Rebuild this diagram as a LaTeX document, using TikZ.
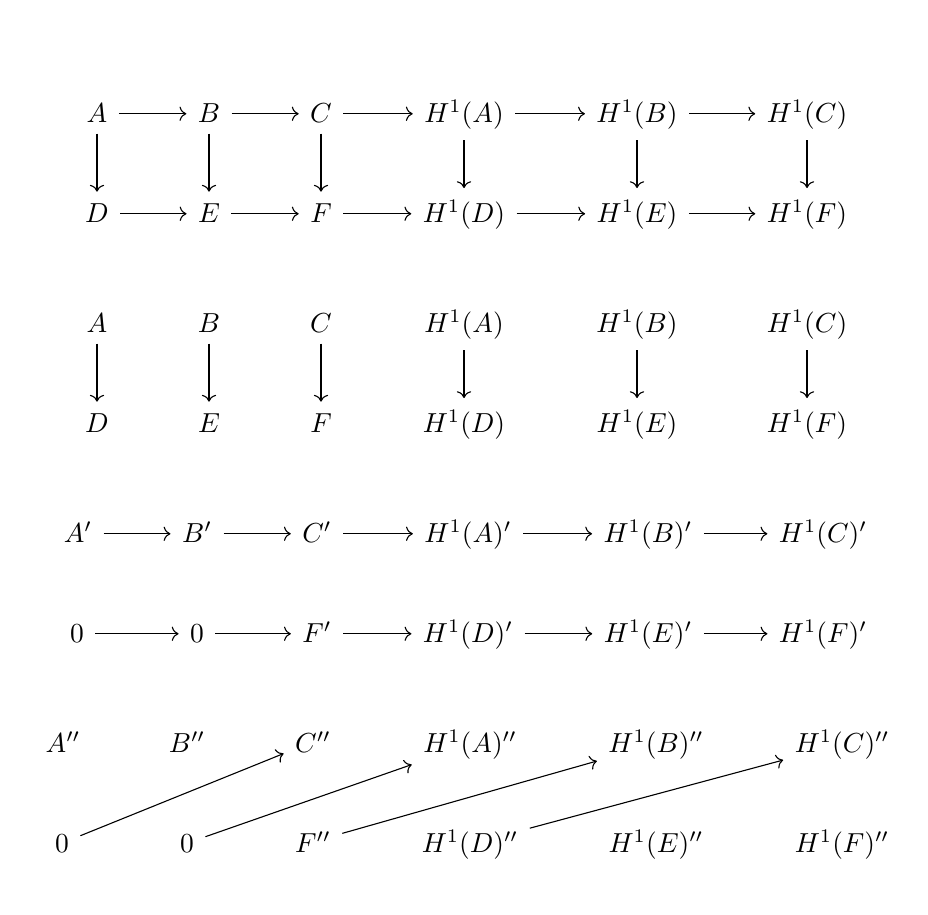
\documentclass[tikz,border=0pt]{standalone}
\usetikzlibrary{arrows.meta}
\begin{document}
\begin{tikzpicture}[x=0.3636pt,y=-0.3636pt,
  cell/.style={anchor=base,inner sep=4pt},
  ar/.style={-{Computer Modern Rightarrow},line width=0.4pt}]
\useasboundingbox (0,0) rectangle (928,914);
% rows 1-2
\node[cell] (a1)  at (97,122)  {$A$};
\node[cell] (b1)  at (209,122) {$B$};
\node[cell] (c1)  at (321,122) {$C$};
\node[cell] (ha1) at (464,122) {$H^1(A)$};
\node[cell] (hb1) at (637,122) {$H^1(B)$};
\node[cell] (hc1) at (807,122) {$H^1(C)$};
\node[cell] (d1)  at (97,222)  {$D$};
\node[cell] (e1)  at (209,222) {$E$};
\node[cell] (f1)  at (321,222) {$F$};
\node[cell] (hd1) at (464,222) {$H^1(D)$};
\node[cell] (he1) at (637,222) {$H^1(E)$};
\node[cell] (hf1) at (807,222) {$H^1(F)$};
\foreach \p/\q in {a1/b1,b1/c1,c1/ha1,ha1/hb1,hb1/hc1,d1/e1,e1/f1,f1/hd1,hd1/he1,he1/hf1}
  \draw[ar] ([yshift=3pt]\p.base east) -- ([yshift=3pt]\q.base west);
\foreach \p/\q in {a1/d1,b1/e1,c1/f1,ha1/hd1,hb1/he1,hc1/hf1}
  \draw[ar] (\p.south) -- (\q.north);
% rows 3-4
\node[cell] (a2)  at (97,332)  {$A$};
\node[cell] (b2)  at (209,332) {$B$};
\node[cell] (c2)  at (321,332) {$C$};
\node[cell] (ha2) at (464,332) {$H^1(A)$};
\node[cell] (hb2) at (637,332) {$H^1(B)$};
\node[cell] (hc2) at (807,332) {$H^1(C)$};
\node[cell] (d2)  at (97,432)  {$D$};
\node[cell] (e2)  at (209,432) {$E$};
\node[cell] (f2)  at (321,432) {$F$};
\node[cell] (hd2) at (464,432) {$H^1(D)$};
\node[cell] (he2) at (637,432) {$H^1(E)$};
\node[cell] (hf2) at (807,432) {$H^1(F)$};
\foreach \p/\q in {a2/d2,b2/e2,c2/f2,ha2/hd2,hb2/he2,hc2/hf2}
  \draw[ar] (\p.south) -- (\q.north);
% rows 5-6
\node[cell] (a3)  at (78,542)  {$A'$};
\node[cell] (b3)  at (197,542) {$B'$};
\node[cell] (c3)  at (317,542) {$C'$};
\node[cell] (ha3) at (468,542) {$H^1(A)'$};
\node[cell] (hb3) at (648,542) {$H^1(B)'$};
\node[cell] (hc3) at (823,542) {$H^1(C)'$};
\node[cell] (d3)  at (77,642)  {$0$};
\node[cell] (e3)  at (197,642) {$0$};
\node[cell] (f3)  at (317,642) {$F'$};
\node[cell] (hd3) at (468,642) {$H^1(D)'$};
\node[cell] (he3) at (648,642) {$H^1(E)'$};
\node[cell] (hf3) at (823,642) {$H^1(F)'$};
\foreach \p/\q in {a3/b3,b3/c3,c3/ha3,ha3/hb3,hb3/hc3,d3/e3,e3/f3,f3/hd3,hd3/he3,he3/hf3}
  \draw[ar] ([yshift=3pt]\p.base east) -- ([yshift=3pt]\q.base west);
% rows 7-8
\node[cell] (a4)  at (63,752)  {$A''$};
\node[cell] (b4)  at (187,752) {$B''$};
\node[cell] (c4)  at (313,752) {$C''$};
\node[cell] (ha4) at (470,752) {$H^1(A)''$};
\node[cell] (hb4) at (656,752) {$H^1(B)''$};
\node[cell] (hc4) at (842,752) {$H^1(C)''$};
\node[cell] (d4)  at (62,852)  {$0$};
\node[cell] (e4)  at (187,852) {$0$};
\node[cell] (f4)  at (313,852) {$F''$};
\node[cell] (hd4) at (470,852) {$H^1(D)''$};
\node[cell] (he4) at (656,852) {$H^1(E)''$};
\node[cell] (hf4) at (842,852) {$H^1(F)''$};
\draw[ar] (d4) -- (c4);
\draw[ar] (e4) -- (ha4);
\draw[ar] (f4) -- (hb4);
\draw[ar] (hd4) -- (hc4);
\end{tikzpicture}
\end{document}
